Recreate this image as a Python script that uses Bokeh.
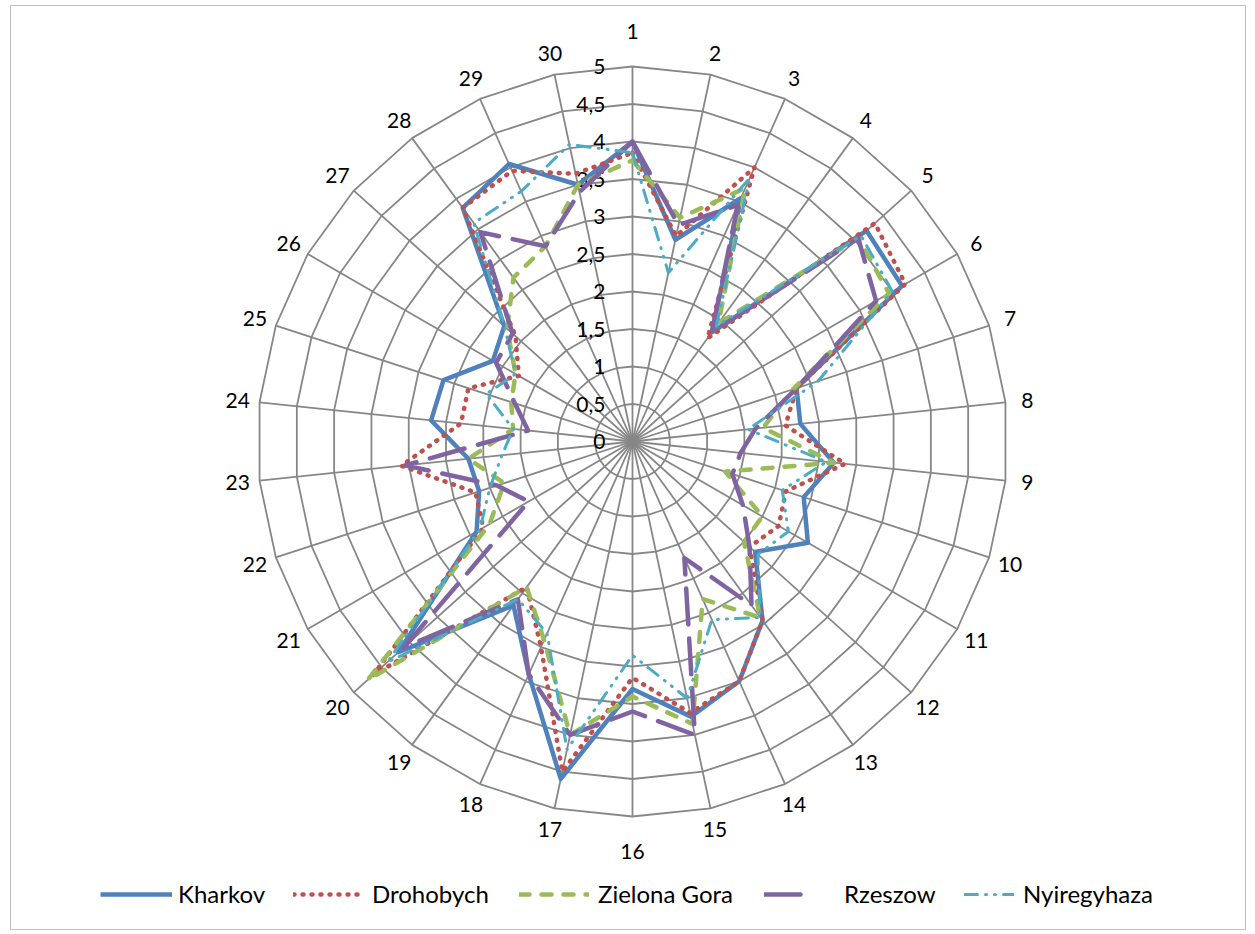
import numpy as np
from bokeh.plotting import figure
from bokeh.models import Range1d, Legend, LegendItem
from bokeh.core.properties import value
from bokeh.embed import file_html
from bokeh.resources import INLINE

# Survey scores on 30 items for five cities (scale 0..5)
categories = ["1", "2", "3", "4", "5", "6", "7", "8", "9", "10",
              "11", "12", "13", "14", "15", "16", "17", "18", "19", "20",
              "21", "22", "23", "24", "25", "26", "27", "28", "29", "30"]

kharkov = [4.0, 2.75, 3.55, 1.8, 4.2, 4.15, 2.3, 2.25, 2.7, 2.4,
           2.7, 2.2, 2.95, 3.5, 3.75, 3.3, 4.6, 3.4, 2.7, 4.2,
           2.4, 2.15, 2.2, 2.7, 2.65, 2.15, 2.3, 3.85, 4.05, 3.5]
drohobych = [3.85, 2.8, 4.0, 1.7, 4.35, 4.2, 2.3, 2.05, 2.85, 2.15,
             2.25, 2.1, 2.95, 3.5, 3.7, 3.15, 4.5, 3.0, 2.4, 4.65,
             2.3, 2.2, 3.1, 2.3, 2.3, 1.75, 2.1, 3.85, 3.95, 3.65]
zielona_gora = [3.75, 3.05, 3.7, 1.95, 4.05, 3.95, 2.25, 1.75, 2.7, 1.3,
                2.0, 2.0, 2.9, 2.3, 3.85, 3.4, 4.0, 2.9, 2.4, 4.75,
                2.2, 1.8, 2.2, 1.6, 1.7, 1.8, 2.25, 2.7, 2.85, 3.5]
rzeszow = [4.0, 2.95, 3.45, 1.8, 4.05, 3.75, 2.3, 1.65, 1.45, 1.4,
           1.7, 2.1, 2.7, 1.7, 4.0, 3.6, 4.0, 3.4, 2.6, 4.1,
           1.6, 1.9, 3.05, 1.4, 1.65, 2.1, 2.15, 3.45, 2.85, 3.4]
nyiregyhaza = [3.85, 2.3, 3.85, 1.9, 4.1, 4.0, 2.6, 1.55, 2.6, 2.1,
               2.4, 2.25, 2.9, 2.6, 3.5, 2.85, 4.2, 2.8, 2.6, 4.4,
               2.35, 2.0, 1.75, 1.6, 2.05, 1.8, 2.3, 3.6, 3.65, 4.05]

levels = [0, 0.5, 1, 1.5, 2, 2.5, 3, 3.5, 4, 4.5, 5]
level_labels = ["0", "0,5", "1", "1,5", "2", "2,5", "3", "3,5", "4", "4,5", "5"]

W, H = 1255, 934
PX = 75.0                      # pixels per unit of score
CX, CY = 632, 441              # centre of the radar in page pixels
BL, BR, BT, BB = 10, 10, 5, 5  # frame borders

n = len(categories)
theta = np.deg2rad(np.arange(n) * 360.0 / n)   # clockwise from the top
sin_t, cos_t = np.sin(theta), np.cos(theta)

p = figure(width=W, height=H, output_backend="svg", toolbar_location=None,
           x_axis_location=None, y_axis_location=None,
           min_border_left=BL, min_border_right=BR,
           min_border_top=BT, min_border_bottom=BB,
           x_range=Range1d(-(CX - BL) / PX, (W - BR - CX) / PX),
           y_range=Range1d(-(H - BB - CY) / PX, (CY - BT) / PX))
p.grid.visible = False
p.outline_line_color = "#BFBFBF"
p.outline_line_width = 1
p.background_fill_color = "white"
p.border_fill_color = "white"

grid_color = "#878787"

# polygonal rings
ring_xs, ring_ys = [], []
for lv in levels[1:]:
    ring_xs.append(list(np.append(lv * sin_t, lv * sin_t[0])))
    ring_ys.append(list(np.append(lv * cos_t, lv * cos_t[0])))
p.multi_line(ring_xs, ring_ys, line_color=grid_color, line_width=1.8)

# spokes
top = levels[-1]
p.multi_line([[0, top * s] for s in sin_t], [[0, top * c] for c in cos_t],
             line_color=grid_color, line_width=1.8)

# value labels along the first spoke
p.text(x=[-0.36] * len(levels), y=levels, text=level_labels,
       text_align="right", text_baseline="middle",
       text_font=value("Lato"), text_font_size="21px", text_color="#000000")

# category labels around the outside
lab_r = np.where(np.abs(cos_t) > 0.99, 410.0, 397.0) / PX
p.text(x=list(lab_r * sin_t), y=list(lab_r * cos_t), text=categories,
       text_align="center", text_baseline="middle",
       text_font=value("Lato"), text_font_size="21px", text_color="#000000")


def closed(vals):
    v = np.asarray(vals, dtype=float)
    xs = np.append(v * sin_t, v[0] * sin_t[0])
    ys = np.append(v * cos_t, v[0] * cos_t[0])
    return list(xs), list(ys)


series = [
    ("Kharkov", kharkov, dict(line_color="#4F81BD", line_width=4.5, line_join="round")),
    ("Drohobych", drohobych, dict(line_color="#C0504D", line_width=4.5,
                                  line_dash="1 8", line_cap="round", line_join="round")),
    ("Zielona Gora", zielona_gora, dict(line_color="#9BBB59", line_width=4.5,
                                        line_dash="10 12", line_cap="round", line_join="round")),
    ("Rzeszow", rzeszow, dict(line_color="#8064A2", line_width=4.5,
                              line_dash="36 14", line_cap="round", line_join="round")),
    ("Nyiregyhaza", nyiregyhaza, dict(line_color="#4BACC6", line_width=3,
                                      line_dash="13 8 1 8 1 8", line_cap="round", line_join="round")),
]

renderers = []
for name, vals, style in series:
    xs, ys = closed(vals)
    renderers.append(p.line(xs, ys, **style))

# legend row along the bottom
legend_x = [100, 293, 519, 764, 964]
glyph_w = [72, 70, 70, 50, 50]
standoff = [6, 9, 9, 30, 9]
for (name, _, _), r, lx, gw, so in zip(series, renderers, legend_x, glyph_w, standoff):
    lg = Legend(items=[LegendItem(label=name, renderers=[r])],
                location=(lx - BL, H - BB - 908), orientation="horizontal",
                glyph_width=gw, glyph_height=20, label_standoff=so,
                padding=0, margin=0, spacing=0,
                border_line_alpha=0, background_fill_alpha=0,
                label_text_font="Lato", label_text_font_size="24px",
                label_text_color="#000000")
    p.add_layout(lg)

open("out.html", "w").write(file_html(p, INLINE))
